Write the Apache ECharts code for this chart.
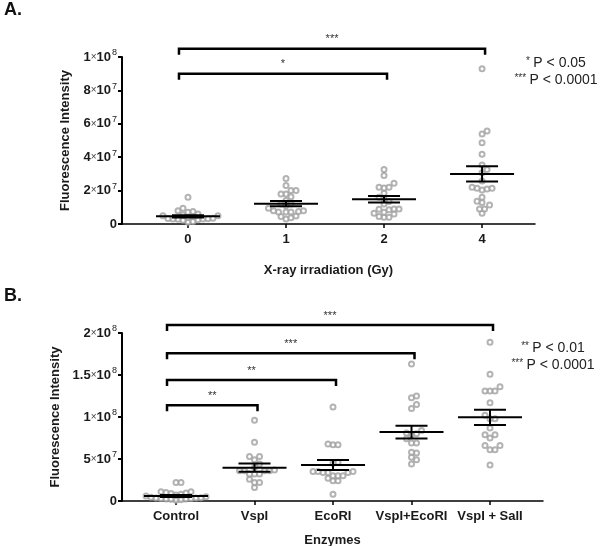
<!DOCTYPE html>
<html>
<head>
<meta charset="utf-8">
<script src="https://cdn.jsdelivr.net/npm/echarts@6/dist/echarts.min.js"></script>
<style>html,body{margin:0;padding:0;background:#fff}#c{width:600px;height:546px}</style>
</head>
<body>
<div id="c"></div>
<script>
// ---- data (values in units of 10^7) ----
const UNIT = 1e7;
const catsA = ['0', '1', '2', '4'];
const ptsA = [
  [1.6, 0.95, 0.75, 0.8, 0.7, 0.55, 0.5, 0.6, 0.45, 0.5, 0.32, 0.28, 0.35, 0.3, 0.25, 0.33, 0.3, 0.4, 0.22, 0.1, 0.15],
  [2.73, 2.3, 2.0, 2.0, 1.8, 1.8, 1.63, 1.4, 1.2, 1.2, 1.1, 0.95, 0.8, 0.75, 0.72, 0.72, 0.72, 0.8, 0.48, 0.45, 0.38, 0.3],
  [3.27, 2.9, 2.44, 2.2, 2.2, 2.15, 1.84, 1.6, 1.5, 1.35, 1.2, 0.9, 0.88, 0.85, 0.9, 0.7, 0.6, 0.65, 0.4, 0.4, 0.45],
  [9.3, 5.57, 5.39, 4.87, 4.17, 3.53, 3.27, 3.07, 2.57, 2.14, 2.04, 2.1, 2.14, 2.2, 1.6, 1.28, 1.36, 1.14, 0.9, 0.9, 0.64]
];
const meanA = [0.46, 1.22, 1.48, 3.0];
const semA  = [0.07, 0.16, 0.2, 0.46];
const bracketsA = [ // [fromCat, toCat, height, label]
  [0, 3, 10.5, '***'],
  [0, 2, 9.0, '*']
];
const legendA = [['*', 'P < 0.05'], ['***', 'P < 0.0001']];

const catsB = ['Control', 'VspI', 'EcoRI', 'VspI+EcoRI', 'VspI + SalI'];
const ptsB = [
  [2.2, 2.2, 1.1, 1.0, 0.9, 0.95, 1.1, 0.8, 0.7, 0.6, 0.5, 0.45, 0.4, 0.35, 0.3, 0.25, 0.3, 0.2, 0.25, 0.15, 0.35, 0.1],
  [9.6, 7.0, 5.3, 5.3, 4.9, 4.4, 4.0, 3.7, 3.6, 3.6, 3.6, 3.6, 3.2, 3.2, 3.2, 2.6, 2.2, 2.2, 1.6],
  [11.2, 6.8, 6.7, 6.7, 4.6, 4.5, 3.5, 3.4, 3.4, 3.4, 3.5, 3.5, 3.0, 3.0, 3.0, 2.4, 2.4, 2.7, 0.8],
  [16.3, 12.5, 12.3, 11.5, 11.0, 8.4, 8.1, 8.0, 7.9, 7.4, 6.9, 6.9, 5.8, 5.7, 5.2, 4.9, 4.4],
  [18.9, 15.1, 13.6, 13.1, 13.1, 13.1, 11.7, 10.2, 9.8, 9.8, 8.7, 7.9, 7.9, 7.5, 6.6, 6.1, 6.1, 6.6, 4.3]
];
const meanB = [0.6, 3.97, 4.29, 8.2, 9.96];
const semB  = [0.12, 0.5, 0.6, 0.76, 0.9];
const bracketsB = [
  [0, 4, 20.95, '***'],
  [0, 3, 17.6, '***'],
  [0, 2, 14.4, '**'],
  [0, 1, 11.4, '**']
];
const legendB = [['**', 'P < 0.01'], ['***', 'P < 0.0001']];

// ---- layout ----
const W = 600;
const gA = {left: 122, top: 57, right: 65, height: 167, outerBoundsMode: 'none', containLabel: false};
const gB = {left: 122, top: 333, right: 57, height: 168, outerBoundsMode: 'none', containLabel: false};
const xA = {min: -0.673, max: 3.54};
const xB = {min: -0.688, max: 4.675};
const yA = {max: 10, interval: 2};
const yB = {max: 20, interval: 5};

function swarm(groups, grid, xr, yr) {
  const pxX = (W - grid.left - grid.right) / (xr.max - xr.min);
  const pxY = grid.height / yr.max;
  const d = 5.0;
  const out = [];
  groups.forEach((vals, gi) => {
    const order = vals.map((v, i) => i).sort((a, b) => vals[a] - vals[b]);
    const placed = [];
    order.forEach(i => {
      const py = vals[i] * pxY;
      let px = 0;
      for (let k = 0; k < 60; k++) {
        const off = (k === 0 ? 0 : (k % 2 ? 1 : -1) * Math.ceil(k / 2)) * d * 0.5;
        const ok = placed.every(p => Math.hypot(p[0] - off, p[1] - py) >= d);
        if (ok) { px = off; break; }
      }
      placed.push([px, py]);
      out.push([gi + px / pxX, vals[i] * UNIT]);
    });
  });
  return out;
}

function yfmt(v) {
  if (v === 0) return '{m|0}';
  const e = Math.floor(Math.log10(v) + 1e-9);
  const m = Math.round(v / Math.pow(10, e) * 10) / 10;
  return '{m|' + m + '}{x|×}{m|10}{e|' + e + '}';
}
const richY = {
  m: {fontSize: 13, color: '#1a1a1a', fontFamily: 'Liberation Sans', fontWeight: 'bold', lineHeight: 16},
  x: {fontSize: 10, color: '#444', fontFamily: 'Liberation Sans', lineHeight: 16},
  e: {fontSize: 9, color: '#1a1a1a', fontFamily: 'Liberation Sans', lineHeight: 16, padding: [0, 0, 8, 1]}
};
const axisLineStyle = {color: '#000', width: 2};
const FONT = 'Liberation Sans';

function makeY(idx, yr, name) {
  return {
    type: 'value', gridIndex: idx, min: 0, max: yr.max * UNIT, interval: yr.interval * UNIT,
    name: name, nameLocation: 'middle', nameGap: 50, nameRotate: 90,
    nameTextStyle: {fontFamily: FONT, fontSize: 13, fontWeight: 'bold', color: '#1a1a1a'},
    axisLine: {show: true, onZero: false, lineStyle: axisLineStyle},
    axisTick: {show: true, length: 4, lineStyle: axisLineStyle},
    axisLabel: {formatter: yfmt, rich: richY, margin: 5},
    splitLine: {show: false}
  };
}
function makeX(idx, xr, cats, name, gap) {
  const vals = cats.map((c, i) => i);
  return {
    type: 'value', gridIndex: idx, min: xr.min, max: xr.max,
    name: name, nameLocation: 'middle', nameGap: gap,
    nameTextStyle: {fontFamily: FONT, fontSize: 13, fontWeight: 'bold', color: '#1a1a1a'},
    axisLine: {show: true, onZero: false, lineStyle: {color: '#000', width: 1.5}},
    axisTick: {show: true, length: 4, customValues: vals, lineStyle: {color: '#000', width: 1.5}},
    axisLabel: {customValues: vals, formatter: v => cats[Math.round(v)], margin: 9,
      fontFamily: FONT, fontSize: 13, fontWeight: 'bold', color: '#1a1a1a'},
    splitLine: {show: false}
  };
}

function statsSeries(idx, means, sems) {
  return {
    type: 'custom', xAxisIndex: idx, yAxisIndex: idx, z: 5,
    data: means.map((m, i) => [i, m * UNIT, sems[i] * UNIT]),
    renderItem: (params, api) => {
      const x = api.value(0), m = api.value(1), s = api.value(2);
      const c = api.coord([x, m]), t = api.coord([x, m + s]), b = api.coord([x, m - s]);
      const st = {stroke: '#000', lineWidth: 2};
      const L = (x1, y1, x2, y2) => ({type: 'line', shape: {x1, y1, x2, y2}, style: st});
      return {type: 'group', children: [
        L(c[0] - 32, c[1], c[0] + 32, c[1]),
        L(c[0], t[1], c[0], b[1]),
        L(c[0] - 16, t[1], c[0] + 16, t[1]),
        L(c[0] - 16, b[1], c[0] + 16, b[1])
      ]};
    }
  };
}
function bracketSeries(idx, br) {
  return {
    type: 'custom', xAxisIndex: idx, yAxisIndex: idx, z: 6, clip: false,
    data: br.map(b => [b[0], b[1], b[2] * UNIT]),
    renderItem: (params, api) => {
      const a = api.coord([api.value(0), api.value(2)]);
      const b = api.coord([api.value(1), api.value(2)]);
      const x1 = a[0] - 9, x2 = b[0] + 3, y = a[1];
      return {type: 'group', children: [
        {type: 'polyline', shape: {points: [[x1, y + 6], [x1, y], [x2, y], [x2, y + 6]]},
          style: {stroke: '#000', lineWidth: 2.5, fill: null}},
        {type: 'text', x: (x1 + x2) / 2, y: y - 4,
          style: {text: br[params.dataIndex][3], fontSize: 11, fontFamily: FONT, fill: '#333',
            align: 'center', verticalAlign: 'bottom'}}
      ]};
    }
  };
}
function legendGraphic(items, cx, y0) {
  return items.map((it, i) => ({
    type: 'text', x: cx, y: y0 + i * 17,
    style: {text: '{s|' + it[0] + '} {t|' + it[1] + '}', align: 'center', verticalAlign: 'middle',
      rich: {s: {fontSize: 10, fontFamily: FONT, fill: '#333', padding: [0, 0, 3, 0]},
             t: {fontSize: 14, fontFamily: FONT, fill: '#222'}}}
  }));
}

const chart = echarts.init(document.getElementById('c'), null, {renderer: 'canvas'});
chart.setOption({
  animation: false,
  backgroundColor: '#fff',
  grid: [gA, gB],
  xAxis: [makeX(0, xA, catsA, 'X-ray irradiation (Gy)', 40), makeX(1, xB, catsB, 'Enzymes', 33)],
  yAxis: [makeY(0, yA, 'Fluorescence Intensity'), makeY(1, yB, 'Fluorescence Intensity')],
  series: [
    {type: 'scatter', xAxisIndex: 0, yAxisIndex: 0, symbol: 'emptyCircle', symbolSize: 5,
      itemStyle: {color: '#a0a0a0', borderWidth: 1.4}, data: swarm(ptsA, gA, xA, yA)},
    {type: 'scatter', xAxisIndex: 1, yAxisIndex: 1, symbol: 'emptyCircle', symbolSize: 5,
      itemStyle: {color: '#a0a0a0', borderWidth: 1.4}, data: swarm(ptsB, gB, xB, yB)},
    statsSeries(0, meanA, semA),
    statsSeries(1, meanB, semB),
    bracketSeries(0, bracketsA),
    bracketSeries(1, bracketsB)
  ],
  graphic: [
    {type: 'text', left: 4, top: 1, style: {text: 'A.', fontSize: 18, fontWeight: 'bold', fontFamily: FONT, fill: '#111'}},
    {type: 'text', left: 4, top: 287, style: {text: 'B.', fontSize: 18, fontWeight: 'bold', fontFamily: FONT, fill: '#111'}},
    ...legendGraphic(legendA, 556, 63),
    ...legendGraphic(legendB, 553, 348)
  ]
});
</script>
</body>
</html>
